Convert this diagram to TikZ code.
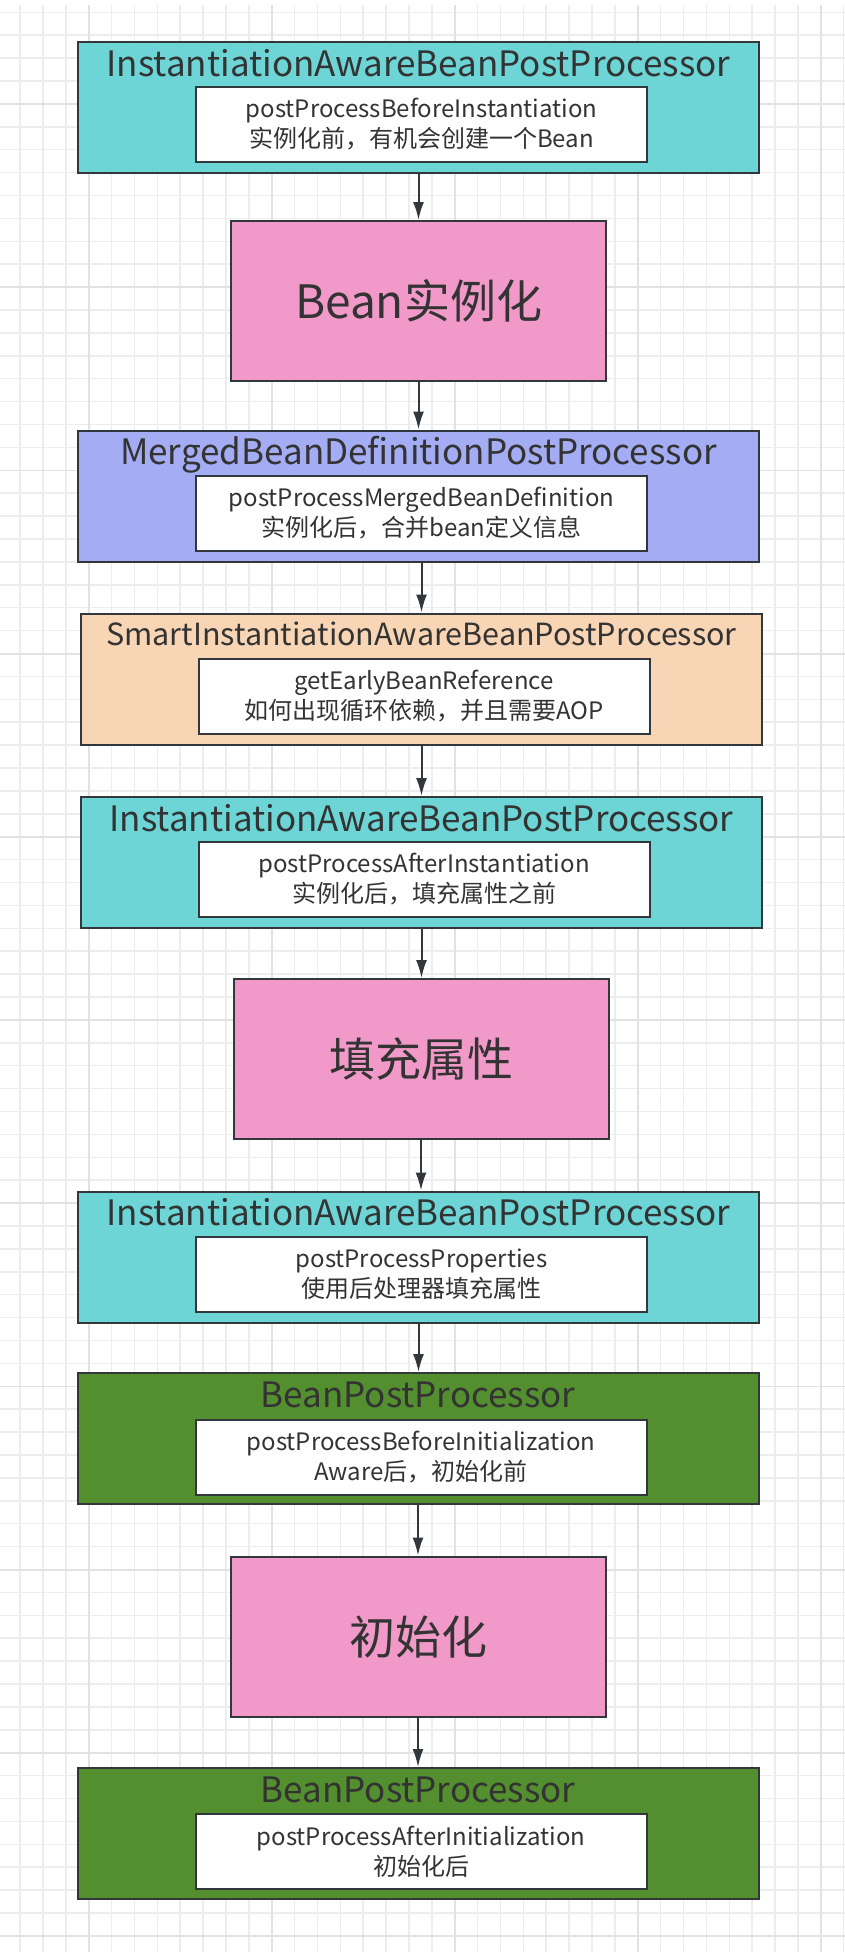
\documentclass[tikz,border=0pt]{standalone}
\usepackage{fontspec}
\setmainfont{Noto Sans CJK SC}
\usetikzlibrary{arrows.meta}

\definecolor{gridline}{RGB}{237,237,237}
\definecolor{gridmajor}{RGB}{226,226,226}
\definecolor{edgedark}{RGB}{50,55,60}
\definecolor{textdark}{RGB}{51,51,51}
\definecolor{awarecyan}{RGB}{109,213,214}
\definecolor{beanpink}{RGB}{241,153,200}
\definecolor{mergedblue}{RGB}{164,173,243}
\definecolor{smartpeach}{RGB}{248,213,180}
\definecolor{bppgreen}{RGB}{84,143,47}

\begin{document}
\begin{tikzpicture}[x=1pt, y=-1pt,
    procbox/.style={draw=edgedark, line width=2pt, minimum width=681pt, minimum height=131pt, inner sep=0pt},
    proctitle/.style={font=\fontsize{35}{40}\selectfont, text=textdark, anchor=base, inner sep=0pt},
    methodbox/.style={draw=edgedark, line width=2pt, fill=white, minimum width=451pt, minimum height=75pt,
        inner sep=0pt, align=center, text=textdark, font=\fontsize{24}{30}\selectfont},
    stagebox/.style={draw=edgedark, line width=2pt, fill=beanpink, minimum width=375pt, minimum height=160pt,
        text=textdark, font=\fontsize{46}{50}\selectfont},
    flow/.style={draw=edgedark, line width=2pt, -{Latex[length=18pt,width=11pt]}}
]
\useasboundingbox (0,0) rectangle (845,1952);

% 背景网格
\fill[white] (0,0) rectangle (845,1952);
\foreach \i in {0,...,36}
    \draw[gridline, line width=1.5pt] (20+\i*22.88,5) -- (20+\i*22.88,1952);
\foreach \j in {0,...,85}
    \draw[gridline, line width=1.5pt] (0,12.3+\j*22.9) -- (845,12.3+\j*22.9);
\foreach \i in {0,...,4}
    \draw[gridmajor, line width=1.8pt] (88.6+\i*183.04,5) -- (88.6+\i*183.04,1952);
\foreach \j in {0,...,10}
    \draw[gridmajor, line width=1.8pt] (0,104+\j*183.2) -- (845,104+\j*183.2);

% 实例化前
\node[procbox, fill=awarecyan] (iabBefore) at (418.5,107.5) {};
\node[proctitle] (iabBeforeT) at ([yshift=-35pt]iabBefore.north) {InstantiationAwareBeanPostProcessor};
\node[methodbox] (iabBeforeM) at (421.5,124.5) {postProcessBeforeInstantiation\\实例化前，有机会创建一个Bean};

\node[stagebox] (beanInst) at (418.5,301) {Bean实例化};

% 实例化后
\node[procbox, fill=mergedblue] (merged) at (418.5,496) {};
\node[proctitle] (mergedT) at ([yshift=-35pt]merged.north) {MergedBeanDefinitionPostProcessor};
\node[methodbox] (mergedM) at (421.5,513.5) {postProcessMergedBeanDefinition\\实例化后，合并bean定义信息};

\node[procbox, fill=smartpeach] (smart) at (421.5,679) {};
\node[proctitle, font=\fontsize{30.5}{34}\selectfont] (smartT) at ([yshift=-33pt]smart.north) {SmartInstantiationAwareBeanPostProcessor};
\node[methodbox] (smartM) at (424,696.5) {getEarlyBeanReference\\如何出现循环依赖，并且需要AOP};

\node[procbox, fill=awarecyan] (iabAfter) at (421.5,862.5) {};
\node[proctitle] (iabAfterT) at ([yshift=-35pt]iabAfter.north) {InstantiationAwareBeanPostProcessor};
\node[methodbox] (iabAfterM) at (424,879.5) {postProcessAfterInstantiation\\实例化后，填充属性之前};

\node[stagebox] (fillProps) at (421,1059) {填充属性};

% 属性填充
\node[procbox, fill=awarecyan] (iabProps) at (418.5,1257) {};
\node[proctitle] (iabPropsT) at ([yshift=-35pt]iabProps.north) {InstantiationAwareBeanPostProcessor};
\node[methodbox] (iabPropsM) at (421.5,1274.5) {postProcessProperties\\使用后处理器填充属性};

% 初始化
\node[procbox, fill=bppgreen] (bppBefore) at (418,1438.5) {};
\node[proctitle] (bppBeforeT) at ([yshift=-35pt]bppBefore.north) {BeanPostProcessor};
\node[methodbox] (bppBeforeM) at (421,1457.5) {postProcessBeforeInitialization\\Aware后，初始化前};

\node[stagebox] (initStage) at (418,1636.5) {初始化};

\node[procbox, fill=bppgreen] (bppAfter) at (418,1833.5) {};
\node[proctitle] (bppAfterT) at ([yshift=-35pt]bppAfter.north) {BeanPostProcessor};
\node[methodbox] (bppAfterM) at (421,1851.5) {postProcessAfterInitialization\\初始化后};

% 箭头
\draw[flow] (iabBefore.south) -- (iabBefore.south |- beanInst.north);
\draw[flow] (beanInst.south) -- (beanInst.south |- merged.north);
\draw[flow] (smart.north |- merged.south) -- (smart.north);
\draw[flow] (smart.south) -- (smart.south |- iabAfter.north);
\draw[flow] (iabAfter.south) -- (iabAfter.south |- fillProps.north);
\draw[flow] (fillProps.south) -- (fillProps.south |- iabProps.north);
\draw[flow] (iabProps.south) -- (iabProps.south |- bppBefore.north);
\draw[flow] (bppBefore.south) -- (bppBefore.south |- initStage.north);
\draw[flow] (initStage.south) -- (initStage.south |- bppAfter.north);
\end{tikzpicture}
\end{document}
